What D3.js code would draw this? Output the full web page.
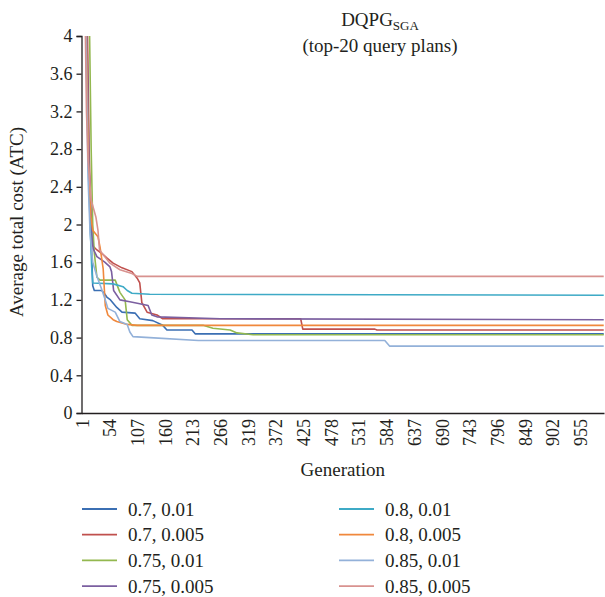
<!DOCTYPE html>
<html>
<head>
<meta charset="utf-8">
<script src="https://cdn.jsdelivr.net/npm/d3@7"></script>
<style>
  html, body { margin: 0; padding: 0; background: #fff; }
  svg text { font-family: "Liberation Serif", "DejaVu Serif", serif; fill: #231f20; }
</style>
</head>
<body>
<svg id="chart"></svg>
<script>
'use strict';

// series labels, in legend order
var seriesNames = ['0.7, 0.01', '0.7, 0.005', '0.75, 0.01', '0.75, 0.005',
                   '0.8, 0.01', '0.8, 0.005', '0.85, 0.01', '0.85, 0.005'];
var seriesColors = ['#3b6fb3', '#c0504d', '#93b84f', '#7b5fa0',
                    '#3eaac6', '#f0883c', '#93b1d9', '#d8928f'];

// breakpoints: generation -> ATC
var genBlue   = [10, 14, 18, 20, 22, 25, 39, 44, 49, 56, 68, 78, 103, 112, 137, 156, 164, 212, 218, 1000];
var atcBlue   = [4.0, 2.6, 2.0, 1.7, 1.35, 1.3, 1.3, 1.27, 1.23, 1.2, 1.12, 1.07, 1.06, 1.0, 0.98, 0.93, 0.88, 0.88, 0.84, 0.84];
var genRed    = [12, 15, 19, 21, 30, 42, 50, 61, 78, 97, 107, 112, 116, 126, 145, 156, 420, 424, 562, 566, 1000];
var atcRed    = [4.0, 2.8, 2.0, 1.78, 1.73, 1.68, 1.64, 1.59, 1.54, 1.5, 1.43, 1.38, 1.17, 1.07, 1.04, 1.0, 1.0, 0.89, 0.89, 0.88, 0.88];
var genGreen  = [16, 19, 22, 25, 30, 36, 65, 74, 84, 88, 97, 233, 252, 285, 298, 329, 1000];
var atcGreen  = [4.0, 2.8, 2.0, 1.7, 1.44, 1.41, 1.41, 1.28, 1.2, 0.99, 0.93, 0.93, 0.9, 0.88, 0.85, 0.83, 0.83];
var genPurple = [11, 15, 19, 21, 23, 30, 45, 55, 58, 62, 74, 93, 112, 128, 135, 145, 266, 1000];
var atcPurple = [4.0, 2.6, 2.0, 1.84, 1.74, 1.66, 1.6, 1.55, 1.5, 1.3, 1.2, 1.18, 1.16, 1.14, 1.04, 1.02, 1.0, 0.99];
var genTeal   = [9, 13, 17, 20, 22, 61, 80, 88, 97, 131, 1000];
var atcTeal   = [4.0, 2.8, 2.0, 1.55, 1.38, 1.37, 1.34, 1.3, 1.27, 1.26, 1.25];
var genOrange = [10, 14, 18, 22, 32, 36, 42, 46, 51, 61, 68, 88, 107, 1000];
var atcOrange = [4.0, 2.6, 2.1, 1.94, 1.87, 1.76, 1.53, 1.14, 1.04, 0.99, 0.97, 0.94, 0.93, 0.93];
var genLight  = [9, 13, 17, 22, 30, 40, 46, 51, 65, 74, 88, 93, 99, 131, 224, 581, 590, 1000];
var atcLight  = [4.0, 2.5, 1.9, 1.6, 1.45, 1.3, 1.2, 1.11, 1.07, 0.97, 0.94, 0.86, 0.81, 0.8, 0.77, 0.77, 0.71, 0.71];
var genPink   = [8, 10, 13, 19, 28, 32, 35, 55, 74, 97, 107, 1000];
var atcPink   = [4.0, 3.2, 2.68, 2.26, 2.08, 1.94, 1.73, 1.59, 1.52, 1.48, 1.45, 1.45];

var seriesGens = [genBlue, genRed, genGreen, genPurple, genTeal, genOrange, genLight, genPink];
var seriesAtc  = [atcBlue, atcRed, atcGreen, atcPurple, atcTeal, atcOrange, atcLight, atcPink];

var xTickLabels = [1, 54, 107, 160, 213, 266, 319, 372, 425, 478, 531, 584, 637, 690, 743, 796, 849, 902, 955];
var yTickLabels = [0, 0.4, 0.8, 1.2, 1.6, 2, 2.4, 2.8, 3.2, 3.6, 4];

function render() {
    var w = 605, h = 597;
    var left = 81.5, right = 604, top = 36, bottom = 413;
    var serif = '"Liberation Serif", "DejaVu Serif", serif';

    var svg = d3.select('#chart').attr('width', w).attr('height', h);

    var x = d3.scaleLinear().domain([0.5, 1000.5]).range([left, right]);
    var y = d3.scaleLinear().domain([0, 4]).range([bottom, top]);

    // title
    var title = svg.append('text').attr('x', 380).attr('y', 26)
        .attr('text-anchor', 'middle').style('font-size', '19px');
    title.append('tspan').text('DQPG');
    title.append('tspan').attr('dy', 4).style('font-size', '13px').text('SGA');
    svg.append('text').attr('x', 380).attr('y', 52).attr('text-anchor', 'middle')
        .style('font-size', '19px').text('(top-20 query plans)');

    // y axis
    var yAxis = d3.axisLeft(y).tickValues(yTickLabels).tickSize(5).tickPadding(4)
        .tickFormat(function (d) { return String(d); });
    var gy = svg.append('g').attr('transform', 'translate(' + left + ',0)').call(yAxis);
    gy.select('.domain').attr('stroke', '#231f20').attr('stroke-width', 1.3);
    gy.selectAll('.tick line').attr('stroke', '#231f20').attr('stroke-width', 1.3);
    gy.selectAll('.tick text').style('font-size', '18px').style('font-family', serif)
        .style('fill', '#231f20');

    // x axis, labels rotated
    var xAxis = d3.axisBottom(x).tickValues(xTickLabels).tickSize(0).tickPadding(0);
    var gx = svg.append('g').attr('transform', 'translate(0,' + bottom + ')').call(xAxis);
    gx.select('.domain').attr('stroke', '#231f20').attr('stroke-width', 1.3);
    gx.selectAll('.tick text')
        .style('font-size', '18px').style('font-family', serif).style('fill', '#231f20')
        .attr('text-anchor', 'end')
        .attr('transform', 'rotate(-90)')
        .attr('x', -6).attr('y', 0).attr('dy', '0.35em');

    svg.append('text').attr('x', (left + right) / 2).attr('y', 476)
        .attr('text-anchor', 'middle').style('font-size', '19px').text('Generation');
    svg.append('text').attr('transform', 'translate(23,' + 222 + ') rotate(-90)')
        .attr('text-anchor', 'middle').style('font-size', '19px').text('Average total cost (ATC)');

    // lines
    var line = d3.line()
        .x(function (d) { return x(d[0]); })
        .y(function (d) { return y(d[1]); });

    seriesNames.forEach(function (name, i) {
        var pts = seriesGens[i].map(function (g, j) { return [g, seriesAtc[i][j]]; });
        svg.append('path').datum(pts).attr('d', line)
            .attr('fill', 'none').attr('stroke', seriesColors[i])
            .attr('stroke-width', 1.6).attr('stroke-linejoin', 'round');
    });

    // legend, two columns
    var legend = svg.append('g');
    seriesNames.forEach(function (name, i) {
        var col = i < 4 ? 0 : 1;
        var row = i % 4;
        var lx = col === 0 ? 82 : 339;
        var ly = 509 + row * 25.7;
        legend.append('line').attr('x1', lx).attr('x2', lx + 35)
            .attr('y1', ly).attr('y2', ly)
            .attr('stroke', seriesColors[i]).attr('stroke-width', 1.8);
        legend.append('text').attr('x', lx + 46).attr('y', ly).attr('dy', '0.35em')
            .style('font-size', '19px').text(name);
    });
}

render();
</script>
</body>
</html>
